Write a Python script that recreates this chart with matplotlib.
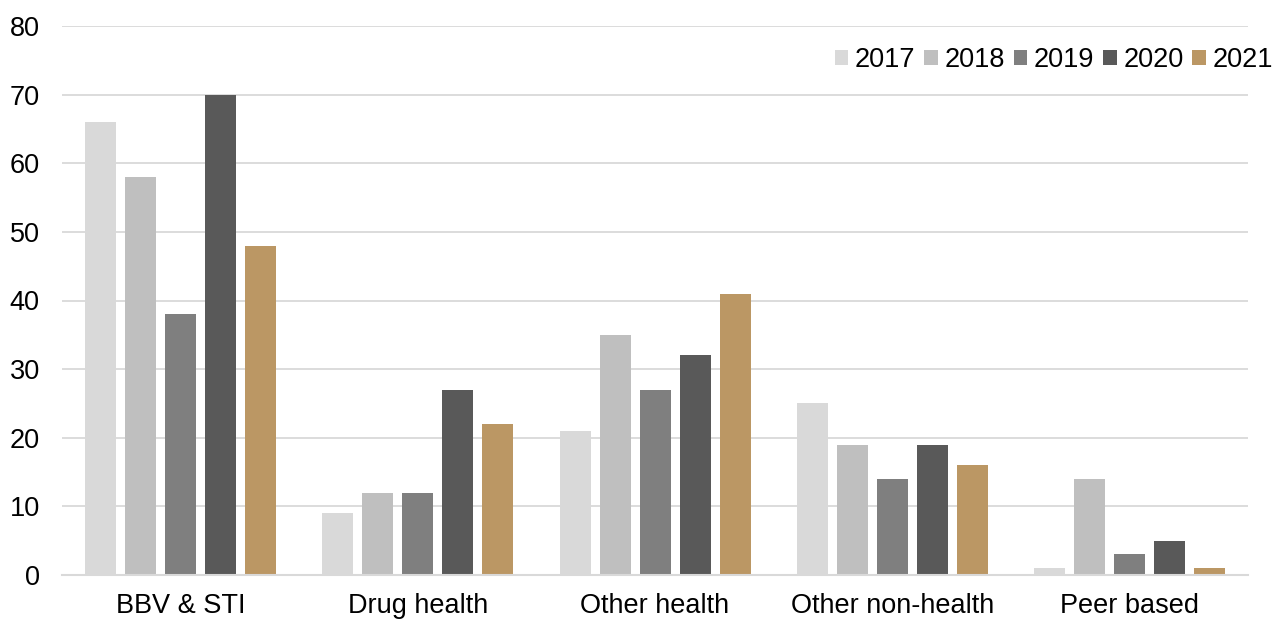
import matplotlib.pyplot as plt
import numpy as np

plt.rcParams['font.family'] = ['Liberation Sans', 'DejaVu Sans']

categories = ['BBV & STI', 'Drug health', 'Other health', 'Other non-health', 'Peer based']
years = ['2017', '2018', '2019', '2020', '2021']
v2017 = [66, 9, 21, 25, 1]
v2018 = [58, 12, 35, 19, 14]
v2019 = [38, 12, 27, 14, 3]
v2020 = [70, 27, 32, 19, 5]
v2021 = [48, 22, 41, 16, 1]
colors = ['#d9d9d9', '#bfbfbf', '#7f7f7f', '#595959', '#bb9764']

series = [v2017, v2018, v2019, v2020, v2021]

fig = plt.figure(figsize=(12.83, 6.19), dpi=100)
ax = fig.add_axes([62 / 1283, 44 / 619, (1248 - 62) / 1283, (575 - 26) / 619])

x = np.arange(len(categories))
pitch = 40 / 237.2
width = 31 / 237.2
for i, (vals, col, yr) in enumerate(zip(series, colors, years)):
    ax.bar(x + (i - 2) * pitch, vals, width, color=col, label=yr, zorder=3)

ax.set_xlim(-0.5, len(categories) - 0.5)
ax.set_ylim(0, 80)
ax.set_yticks(range(0, 81, 10))
ax.set_xticks(x)
ax.set_xticklabels(categories)
ax.tick_params(axis='both', length=0, labelsize=19.5, colors='black')
ax.tick_params(axis='y', pad=16)
ax.tick_params(axis='x', pad=13)
ax.grid(axis='y', color='#d9d9d9', linewidth=1.3, zorder=0)
for s in ['top', 'right', 'left']:
    ax.spines[s].set_visible(False)
ax.spines['bottom'].set_color('#d9d9d9')
ax.spines['bottom'].set_linewidth(1.5)
ax.spines['bottom'].set_zorder(4)

ax.legend(loc='upper right', bbox_to_anchor=(1273 / 1283, 1 - 47 / 619), bbox_transform=fig.transFigure,
          ncol=5, frameon=False, fontsize=19.5, handlelength=0.5, handleheight=0.5,
          handletextpad=0.25, columnspacing=0.32, borderaxespad=0, borderpad=0)

plt.savefig('out.png', dpi=100)
